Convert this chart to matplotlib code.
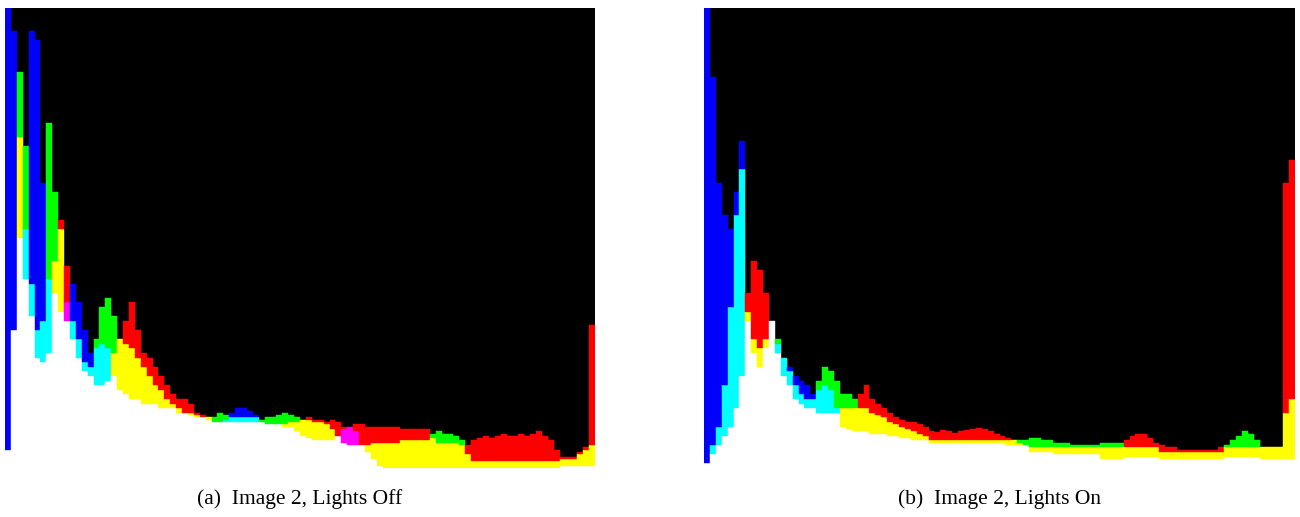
import numpy as np
import matplotlib
matplotlib.use("Agg")
import matplotlib.pyplot as plt

# ---- histogram data: 100 intensity bins per channel, height as fraction of panel ----
# Panel (a): Image 2, Lights Off
red_off = [0.04, 0.30, 0.72, 0.41, 0.33, 0.24, 0.23, 0.25, 0.45, 0.54,
           0.44, 0.28, 0.24, 0.21, 0.20, 0.18, 0.18, 0.19, 0.25, 0.28,
           0.32, 0.36, 0.30, 0.25, 0.24, 0.22, 0.20, 0.18, 0.16, 0.15,
           0.15, 0.14, 0.12, 0.115, 0.11, 0.10, 0.10, 0.10, 0.10, 0.10,
           0.10, 0.10, 0.10, 0.10, 0.095, 0.095, 0.095, 0.095, 0.10, 0.10,
           0.105, 0.11, 0.105, 0.105, 0.10, 0.105, 0.10, 0.09, 0.09, 0.095,
           0.095, 0.09, 0.09, 0.09, 0.09, 0.09, 0.09, 0.085, 0.085, 0.085,
           0.085, 0.085, 0.065, 0.055, 0.055, 0.055, 0.055, 0.05, 0.05, 0.06,
           0.065, 0.07, 0.065, 0.07, 0.075, 0.07, 0.07, 0.075, 0.07, 0.075,
           0.08, 0.07, 0.06, 0.04, 0.025, 0.025, 0.025, 0.035, 0.045, 0.31]
green_off = [0.04, 0.30, 0.86, 0.70, 0.40, 0.30, 0.32, 0.75, 0.60, 0.52,
             0.32, 0.32, 0.28, 0.23, 0.22, 0.28, 0.35, 0.37, 0.33, 0.28,
             0.27, 0.26, 0.24, 0.22, 0.20, 0.18, 0.17, 0.15, 0.14, 0.13,
             0.12, 0.12, 0.115, 0.11, 0.11, 0.11, 0.12, 0.115, 0.11, 0.11,
             0.11, 0.11, 0.11, 0.105, 0.11, 0.11, 0.115, 0.12, 0.115, 0.11,
             0.105, 0.105, 0.10, 0.10, 0.095, 0.085, 0.07, 0.055, 0.05, 0.05,
             0.05, 0.05, 0.055, 0.055, 0.055, 0.055, 0.055, 0.06, 0.06, 0.06,
             0.06, 0.06, 0.075, 0.08, 0.075, 0.075, 0.07, 0.06, 0.03, 0.015,
             0.015, 0.015, 0.015, 0.015, 0.015, 0.015, 0.015, 0.015, 0.015, 0.015,
             0.015, 0.015, 0.015, 0.015, 0.02, 0.02, 0.02, 0.03, 0.04, 0.05]
blue_off = [1.00, 0.95, 0.50, 0.52, 0.95, 0.93, 0.62, 0.41, 0.38, 0.34,
            0.36, 0.40, 0.36, 0.30, 0.25, 0.26, 0.27, 0.26, 0.20, 0.17,
            0.16, 0.15, 0.15, 0.14, 0.14, 0.14, 0.13, 0.13, 0.13, 0.12,
            0.12, 0.115, 0.11, 0.11, 0.105, 0.10, 0.10, 0.105, 0.12, 0.13,
            0.13, 0.125, 0.115, 0.10, 0.095, 0.095, 0.095, 0.09, 0.09, 0.08,
            0.07, 0.065, 0.06, 0.06, 0.06, 0.06, 0.07, 0.085, 0.09, 0.08,
            0.05, 0.035, 0.02, 0.005, 0.0, 0.0, 0.0, 0.0, 0.0, 0.0,
            0.0, 0.0, 0.0, 0.0, 0.0, 0.0, 0.0, 0.0, 0.0, 0.0,
            0.0, 0.0, 0.0, 0.0, 0.0, 0.0, 0.0, 0.0, 0.0, 0.0,
            0.0, 0.0, 0.0, 0.0, 0.005, 0.005, 0.005, 0.005, 0.005, 0.005]

# Panel (b): Image 2, Lights On
red_on = [0.01, 0.03, 0.05, 0.07, 0.09, 0.13, 0.20, 0.38, 0.45, 0.43,
          0.38, 0.32, 0.25, 0.20, 0.18, 0.15, 0.14, 0.13, 0.13, 0.12,
          0.12, 0.12, 0.12, 0.13, 0.13, 0.13, 0.16, 0.18, 0.15, 0.14,
          0.13, 0.12, 0.11, 0.105, 0.10, 0.10, 0.095, 0.09, 0.08, 0.078,
          0.082, 0.08, 0.077, 0.08, 0.083, 0.085, 0.088, 0.085, 0.08, 0.075,
          0.07, 0.065, 0.06, 0.055, 0.05, 0.045, 0.045, 0.045, 0.045, 0.045,
          0.045, 0.045, 0.045, 0.045, 0.045, 0.045, 0.045, 0.045, 0.045, 0.045,
          0.045, 0.06, 0.07, 0.075, 0.075, 0.065, 0.055, 0.05, 0.045, 0.045,
          0.04, 0.04, 0.04, 0.04, 0.04, 0.04, 0.04, 0.045, 0.045, 0.045,
          0.045, 0.045, 0.045, 0.045, 0.045, 0.045, 0.045, 0.045, 0.62, 0.67]
green_on = [0.01, 0.05, 0.09, 0.18, 0.35, 0.55, 0.65, 0.34, 0.28, 0.26,
            0.28, 0.32, 0.28, 0.24, 0.21, 0.18, 0.16, 0.15, 0.15, 0.19,
            0.22, 0.21, 0.19, 0.16, 0.16, 0.15, 0.13, 0.13, 0.12, 0.115,
            0.11, 0.10, 0.095, 0.09, 0.085, 0.08, 0.075, 0.07, 0.06, 0.06,
            0.06, 0.06, 0.06, 0.06, 0.06, 0.06, 0.06, 0.06, 0.06, 0.06,
            0.06, 0.06, 0.06, 0.06, 0.06, 0.065, 0.065, 0.06, 0.06, 0.055,
            0.055, 0.055, 0.05, 0.05, 0.05, 0.05, 0.05, 0.055, 0.055, 0.055,
            0.055, 0.045, 0.045, 0.045, 0.045, 0.045, 0.045, 0.035, 0.035, 0.035,
            0.035, 0.035, 0.035, 0.035, 0.035, 0.035, 0.035, 0.035, 0.05, 0.06,
            0.07, 0.08, 0.075, 0.06, 0.045, 0.045, 0.045, 0.045, 0.12, 0.15]
blue_on = [1.00, 0.85, 0.62, 0.55, 0.52, 0.60, 0.71, 0.32, 0.25, 0.22,
           0.26, 0.32, 0.27, 0.24, 0.22, 0.20, 0.19, 0.18, 0.16, 0.17,
           0.18, 0.17, 0.13, 0.09, 0.085, 0.08, 0.08, 0.08, 0.075, 0.075,
           0.075, 0.07, 0.07, 0.065, 0.065, 0.06, 0.06, 0.06, 0.055, 0.055,
           0.055, 0.055, 0.055, 0.055, 0.055, 0.055, 0.055, 0.055, 0.055, 0.055,
           0.055, 0.05, 0.05, 0.05, 0.05, 0.035, 0.035, 0.035, 0.035, 0.03,
           0.03, 0.03, 0.03, 0.03, 0.03, 0.03, 0.03, 0.02, 0.02, 0.02,
           0.02, 0.025, 0.025, 0.025, 0.025, 0.025, 0.025, 0.02, 0.02, 0.02,
           0.02, 0.02, 0.02, 0.02, 0.02, 0.02, 0.02, 0.02, 0.025, 0.025,
           0.025, 0.025, 0.025, 0.025, 0.02, 0.02, 0.02, 0.02, 0.02, 0.02]

captions = ["(a)  Image 2, Lights Off", "(b)  Image 2, Lights On"]

# additive colour of a set of channels
def mix(chans):
    return tuple(1.0 if c in chans else 0.0 for c in "rgb")


def draw_hist(ax, r, g, b):
    r, g, b = np.asarray(r), np.asarray(g), np.asarray(b)
    n = len(r)
    xs = np.arange(n)
    H = np.vstack([r, g, b])
    names = np.array(list("rgb"))
    for k in xs:
        order = np.argsort(H[:, k])
        lo, mid, hi = H[order, k]
        layers = [
            (0.0, lo, set("rgb")),
            (lo, mid, set(names[order[1:]])),
            (mid, hi, set(names[order[2:]])),
        ]
        for bot, top, chans in layers:
            if top > bot:
                col = mix(chans)
                ax.bar(k, top - bot, bottom=bot, width=1.0, align="edge",
                       color=col, edgecolor=col, linewidth=0.3)
    ax.set_xlim(0, n)
    ax.set_ylim(0, 1)
    ax.set_facecolor("black")
    ax.set_xticks([])
    ax.set_yticks([])
    for s in ax.spines.values():
        s.set_visible(False)


W, Hpx = 1300, 517
fig = plt.figure(figsize=(W / 100, Hpx / 100), dpi=100)
fig.patch.set_facecolor("white")

axa = fig.add_axes([5 / W, (Hpx - 468) / Hpx, 590 / W, 460 / Hpx])
axb = fig.add_axes([704 / W, (Hpx - 468) / Hpx, 591 / W, 460 / Hpx])
draw_hist(axa, red_off, green_off, blue_off)
draw_hist(axb, red_on, green_on, blue_on)

for ax, cap in zip([axa, axb], captions):
    pos = ax.get_position()
    fig.text(pos.x0 + pos.width / 2, (Hpx - 499) / Hpx, cap,
             ha="center", va="center", fontsize=15.5,
             family=["Liberation Serif", "DejaVu Serif"])

fig.savefig("out.png", dpi=100, facecolor="white")
